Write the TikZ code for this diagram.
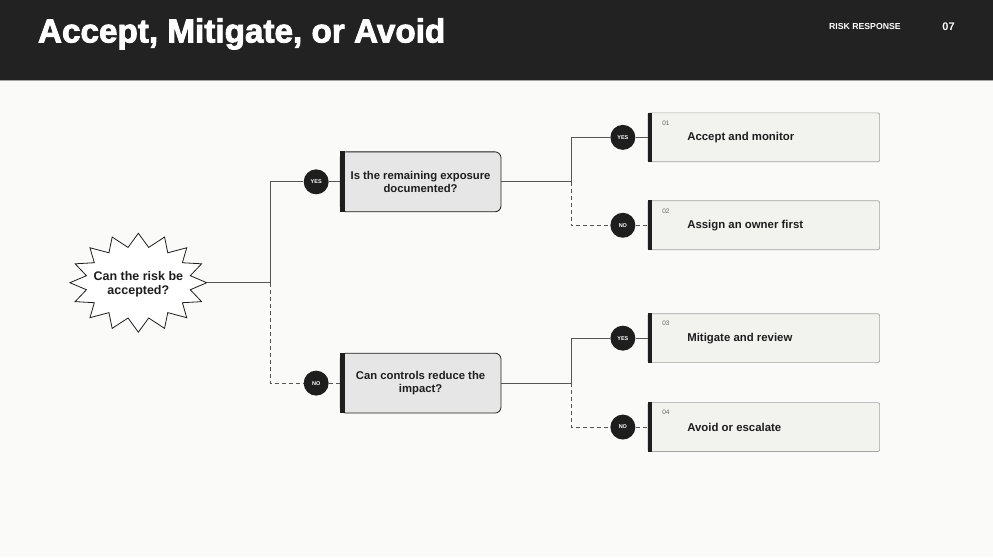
\documentclass[tikz,border=0pt]{standalone}
\usepackage{fontspec}
\setmainfont{Liberation Sans}
\newfontfamily\titlefont[FakeBold=2.5]{Liberation Sans}
\usepackage{xcolor}

\definecolor{ink}{HTML}{1E1E1E}
\definecolor{header}{HTML}{222222}
\definecolor{paper}{HTML}{FAFAF8}
\definecolor{qfill}{HTML}{E6E6E6}
\definecolor{ofill}{HTML}{F2F2EE}
\definecolor{edgegray}{HTML}{A3A3A3}
\definecolor{wire}{HTML}{555555}
\definecolor{numgray}{HTML}{666666}

\begin{document}
\begin{tikzpicture}[x=1pt,y=-1pt,
  question/.style={draw=ink, fill=qfill, rounded corners=6pt, line width=0.8pt,
    minimum width=161pt, minimum height=60pt, align=center, text=ink,
    font=\bfseries\fontsize{11.3}{13.5}\selectfont},
  outcome/.style={draw=edgegray, fill=ofill, rounded corners=2pt, line width=0.7pt,
    minimum width=232pt, minimum height=49pt},
  outtext/.style={anchor=west, text=ink, font=\bfseries\fontsize{11.4}{13}\selectfont},
  outnum/.style={anchor=west, text=numgray, font=\fontsize{6.5}{7}\selectfont},
  badge/.style={circle, fill=ink, text=white, minimum size=25pt, inner sep=0pt,
    font=\bfseries\fontsize{5.5}{6}\selectfont},
  link/.style={draw=wire, line width=0.8pt},
  nolink/.style={link, dash pattern=on 4pt off 3pt}]
\fill[paper] (0,0) rectangle (993,558);
\fill[header] (0,0) rectangle (993,80);
\draw[edgegray, line width=1pt] (0,80.5) -- (993,80.5);
%
\node[anchor=west, text=white, font=\titlefont\bfseries\fontsize{33.3}{37}\selectfont] (title) at (34,34) {Accept, Mitigate, or Avoid};
\node[anchor=west, text=white, font=\bfseries\fontsize{8.7}{10}\selectfont] (topic) at (826,27) {RISK RESPONSE};
\node[text=white, font=\bfseries\fontsize{11}{13}\selectfont] (page) at (949,27) {07};
%
% the spiky start shape
\draw[ink, fill=white, line width=0.8pt] plot[samples at={0,...,31}, variable=\k]
  ({138+cos(90+11.25*\k)*(isodd(\k) ? 53 : 68.5)}, {283+sin(90+11.25*\k)*(isodd(\k) ? 36 : 49.5)}) -- cycle;
\node[minimum width=137pt, minimum height=99pt, inner sep=0pt, align=center, text=ink,
  font=\bfseries\fontsize{12.5}{14}\selectfont] (risk) at (138,285) {Can the risk be\\accepted?};
%
\node[question] (q1) at (420.5,182) {Is the remaining exposure\\documented?};
\node[question] (q2) at (420.5,383.5) {Can controls reduce the\\impact?};
\fill[ink] (q1.north west) rectangle ([xshift=5pt]q1.south west);
\fill[ink] (q2.north west) rectangle ([xshift=5pt]q2.south west);
%
\node[outcome] (o1) at (764,137.5) {};
\node[outcome] (o2) at (764,225.5) {};
\node[outcome] (o3) at (764,338.5) {};
\node[outcome] (o4) at (764,427.5) {};
\fill[ink] (o1.north west) rectangle ([xshift=5pt]o1.south west);
\fill[ink] (o2.north west) rectangle ([xshift=5pt]o2.south west);
\fill[ink] (o3.north west) rectangle ([xshift=5pt]o3.south west);
\fill[ink] (o4.north west) rectangle ([xshift=5pt]o4.south west);
\node[outnum] (n1) at (659,123) {01};
\node[outnum] (n2) at (659,211) {02};
\node[outnum] (n3) at (659,324) {03};
\node[outnum] (n4) at (659,413) {04};
\node[outtext] (t1) at (684,137.5) {Accept and monitor};
\node[outtext] (t2) at (684,225.5) {Assign an owner first};
\node[outtext] (t3) at (684,338.5) {Mitigate and review};
\node[outtext] (t4) at (684,427.5) {Avoid or escalate};
%
\coordinate (j0) at (270,283);
\coordinate (j1) at (571,182);
\coordinate (j2) at (571,383.5);
%
\node[badge] (y0) at (316,182) {YES};
\node[badge] (x0) at (316,383.5) {NO};
\node[badge] (y1) at (623,137.5) {YES};
\node[badge] (x1) at (623,225.5) {NO};
\node[badge] (y2) at (623,338.5) {YES};
\node[badge] (x2) at (623,427.5) {NO};
%
\path[link] (risk.east |- j0) -- (j0) |- (y0) -- (q1);
\path[nolink] (j0) |- (x0) -- (q2);
\path[link] (q1.east) -- (j1) |- (y1) -- (o1);
\path[nolink] (j1) |- (x1) -- (o2);
\path[link] (q2.east) -- (j2) |- (y2) -- (o3);
\path[nolink] (j2) |- (x2) -- (o4);
\end{tikzpicture}
\end{document}
